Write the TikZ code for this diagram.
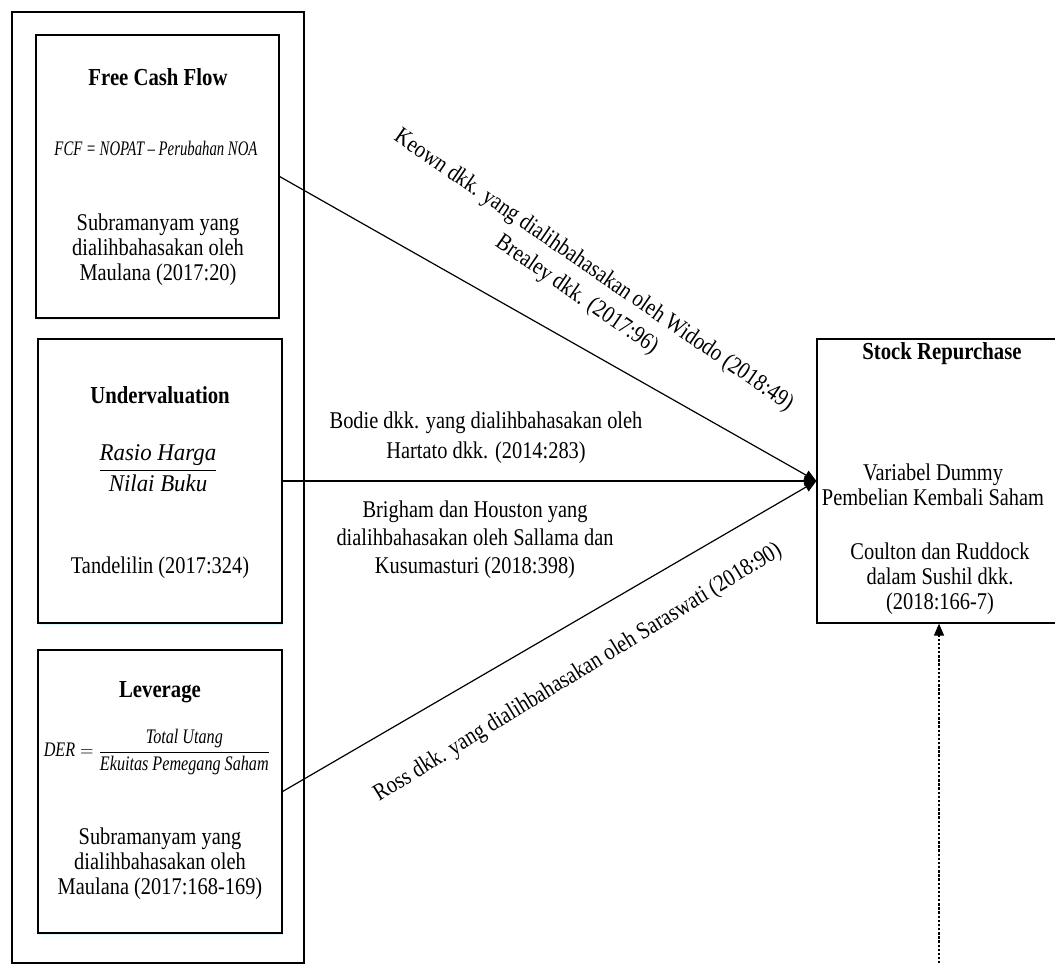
\documentclass[tikz,border=0pt]{standalone}
\usepackage{fontspec}
\setmainfont{Liberation Serif}[FakeStretch=0.85]
\usepackage{graphicx}
\usetikzlibrary{arrows.meta,shadows}
\tikzset{
  outerbox/.style={draw, line width=0.9pt, inner sep=0pt},
  varbox/.style={draw, line width=0.9pt, inner sep=0pt, fill=white,
    drop shadow={shadow xshift=0.4pt, shadow yshift=-1.4pt, fill=blue!25!cyan!20, opacity=0.7}},
  depbox/.style={draw, line width=0.9pt, inner sep=0pt, fill=white},
  txt/.style={align=center, inner sep=0pt, font=\fontsize{18pt}{18.75pt}\selectfont},
  ttl/.style={align=center, inner sep=0pt, font=\fontsize{18.3pt}{18.75pt}\selectfont\bfseries},
  frm/.style={inner sep=0pt},
  lbl/.style={align=center, inner sep=0pt, font=\fontsize{18pt}{22.5pt}\selectfont},
  lblb/.style={align=center, inner sep=0pt, font=\fontsize{18pt}{21pt}\selectfont},
  conn/.style={line width=0.9pt, -{Triangle[length=9pt,width=7.5pt]}},
  dotconn/.style={conn, dash pattern=on 1.8pt off 1.3pt}
}
\begin{document}
\begin{tikzpicture}[x=0.75pt,y=-0.75pt]
\useasboundingbox (0,0) rectangle (1055,964);
% outer frame
\node[outerbox, minimum width=219pt, minimum height=713.25pt] (outer) at (158,487.5) {};
% variable boxes
\node[varbox, minimum width=182.25pt, minimum height=212.25pt] (fcf) at (157.5,176.5) {};
\node[varbox, minimum width=183pt, minimum height=213pt] (und) at (160,481) {};
\node[varbox, minimum width=183pt, minimum height=212.25pt] (lev) at (160,791.5) {};
\node[depbox, minimum width=186pt, minimum height=213pt] (rp) at (941,481) {};

% Free Cash Flow
\node[ttl] (fcft) at (158,77) {Free Cash Flow};
\node[frm, font=\fontsize{15.5pt}{17pt}\selectfont\itshape] (fcff) at (156,148)
  {\scalebox{0.84}[1]{FCF = NOPAT \textendash{} Perubahan NOA}};
\node[txt] (fcfr) at (158,250) {Subramanyam yang\\dialihbahasakan oleh\\Maulana (2017:20)};

% Undervaluation
\node[ttl] (undt) at (160,395) {Undervaluation};
\node[frm, font=\fontsize{18pt}{20pt}\selectfont] (undf) at (158,468)
  {\scalebox{1.12}[1]{$\displaystyle\frac{\textit{Rasio Harga}}{\textit{Nilai Buku}}$}};
\node[txt] (undr) at (160,568) {Tandelilin (2017:324)};

% Leverage
\node[ttl] (levt) at (160,692) {Leverage};
\node[frm, font=\fontsize{15.5pt}{18pt}\selectfont] (levf) at (157,752)
  {\scalebox{0.92}[1]{$\textit{DER} = \displaystyle\frac{\textit{Total Utang}}{\textit{Ekuitas Pemegang Saham}}$}};
\node[txt] (levr) at (160,864) {Subramanyam yang\\dialihbahasakan oleh\\Maulana (2017:168-169)};

% Stock Repurchase
\node[ttl] (rpt) at (942,354) {Stock Repurchase};
\node[txt] (rpm) at (933,485) {Variabel Dummy\\Pembelian Kembali Saham};
\node[txt] (rpr) at (940,579) {Coulton dan Ruddock\\dalam Sushil dkk.\\(2018:166-7)};

% connectors
\draw[conn] (fcf.east) -- (rp.west);
\draw[conn] (und.east) -- (rp.west);
\draw[conn] (lev.east) -- (rp.west);
\coordinate (dotbot) at (939,980);
\draw[dotconn] (dotbot) -- (dotbot |- rp.south);

% connector labels
\node[lbl, rotate=-34.5] (l1) at (585,283)
  {Keown dkk. yang dialihbahasakan oleh Widodo (2018:49)\\Brealey dkk. (2017:96)};
\node[lbl] (l2) at (486,438) {Bodie dkk. yang dialihbahasakan oleh\\Hartato dkk. (2014:283)};
\node[lblb] (l3) at (475,540) {Brigham dan Houston yang\\dialihbahasakan oleh Sallama dan\\Kusumasturi (2018:398)};
\node[lbl, rotate=31.5] (l4) at (578,673) {Ross dkk. yang dialihbahasakan oleh Saraswati (2018:90)};
\end{tikzpicture}
\end{document}
